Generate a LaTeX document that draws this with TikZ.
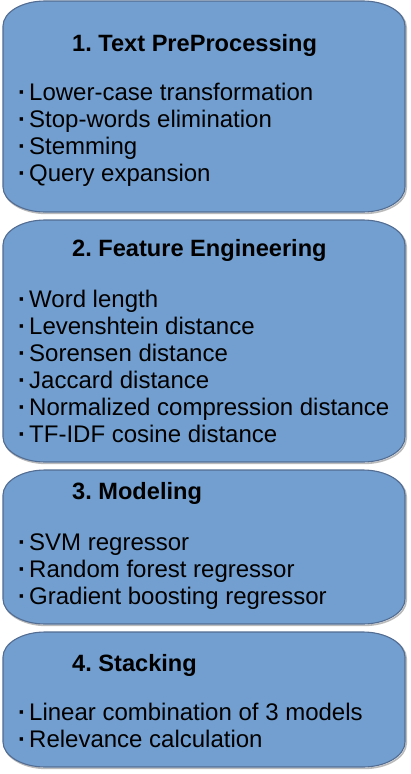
\documentclass[tikz,border=0pt]{standalone}
\usepackage{fontspec}
\setmainfont{Liberation Sans}
\frenchspacing
\definecolor{stagefill}{RGB}{114,159,207}
\definecolor{stageline}{RGB}{82,108,146}
\tikzset{
  stage/.style={fill=stagefill, draw=stageline, line width=1.1pt},
  stageshadow/.style={draw=black!45, line width=1.6pt, opacity=0.6},
  title/.style={anchor=base west, inner sep=0pt, font=\fontsize{23.6}{27}\selectfont\bfseries},
  item/.style={anchor=base west, inner sep=0pt, font=\fontsize{24}{27}\selectfont},
}
% rounded box with elliptical corners: x1, y1, x2, y2 (y grows downward)
\newcommand\stageoutline[4]{%
  (#1+42,#2) -- (#3-42,#2) .. controls +(23,0) and +(0,-13.8) .. (#3,#2+25)
  -- (#3,#4-25) .. controls +(0,13.8) and +(23,0) .. (#3-42,#4)
  -- (#1+42,#4) .. controls +(-23,0) and +(0,13.8) .. (#1,#4-25)
  -- (#1,#2+25) .. controls +(0,-13.8) and +(-23,0) .. (#1+42,#2) -- cycle}
\newcommand\stagebox[4]{%
  \draw[stageshadow, shift={(1.2,1.4)}] \stageoutline{#1}{#2}{#3}{#4};
  \draw[stage] \stageoutline{#1}{#2}{#3}{#4};}
\newcommand\bul{{\bfseries\textperiodcentered}\hspace{3pt}}
\begin{document}
\begin{tikzpicture}[x=1pt,y=-1pt]
  \useasboundingbox (0,0) rectangle (410,774);

  \stagebox{3}{1}{405}{212}
  \stagebox{3}{220}{405}{462}
  \stagebox{3}{470}{405}{624}
  \stagebox{3}{632}{405}{767}

  % 1. Text PreProcessing
  \node[title] (t1) at (72,51) {1. Text PreProcessing};
  \node[item] (a1) at (18,100) {\bul Lower-case transformation};
  \node[item] (a2) at (18,127) {\bul Stop-words elimination};
  \node[item] (a3) at (18,154) {\bul Stemming};
  \node[item] (a4) at (18,181) {\bul Query expansion};

  % 2. Feature Engineering
  \node[title] (t2) at (72,256) {2. Feature Engineering};
  \node[item] (b1) at (18,307) {\bul Word length};
  \node[item] (b2) at (18,334) {\bul Levenshtein distance};
  \node[item] (b3) at (18,361) {\bul Sorensen distance};
  \node[item] (b4) at (18,388) {\bul Jaccard distance};
  \node[item] (b5) at (18,415) {\bul Normalized compression distance};
  \node[item] (b6) at (18,442) {\bul TF-IDF cosine distance};

  % 3. Modeling
  \node[title] (t3) at (72,499) {3. Modeling};
  \node[item] (c1) at (18,550) {\bul SVM regressor};
  \node[item] (c2) at (18,577) {\bul Random forest regressor};
  \node[item] (c3) at (18,604) {\bul Gradient boosting regressor};

  % 4. Stacking
  \node[title] (t4) at (72,671) {4. Stacking};
  \node[item] (d1) at (18,720) {\bul Linear combination of 3 models};
  \node[item] (d2) at (18,747) {\bul Relevance calculation};
\end{tikzpicture}
\end{document}
